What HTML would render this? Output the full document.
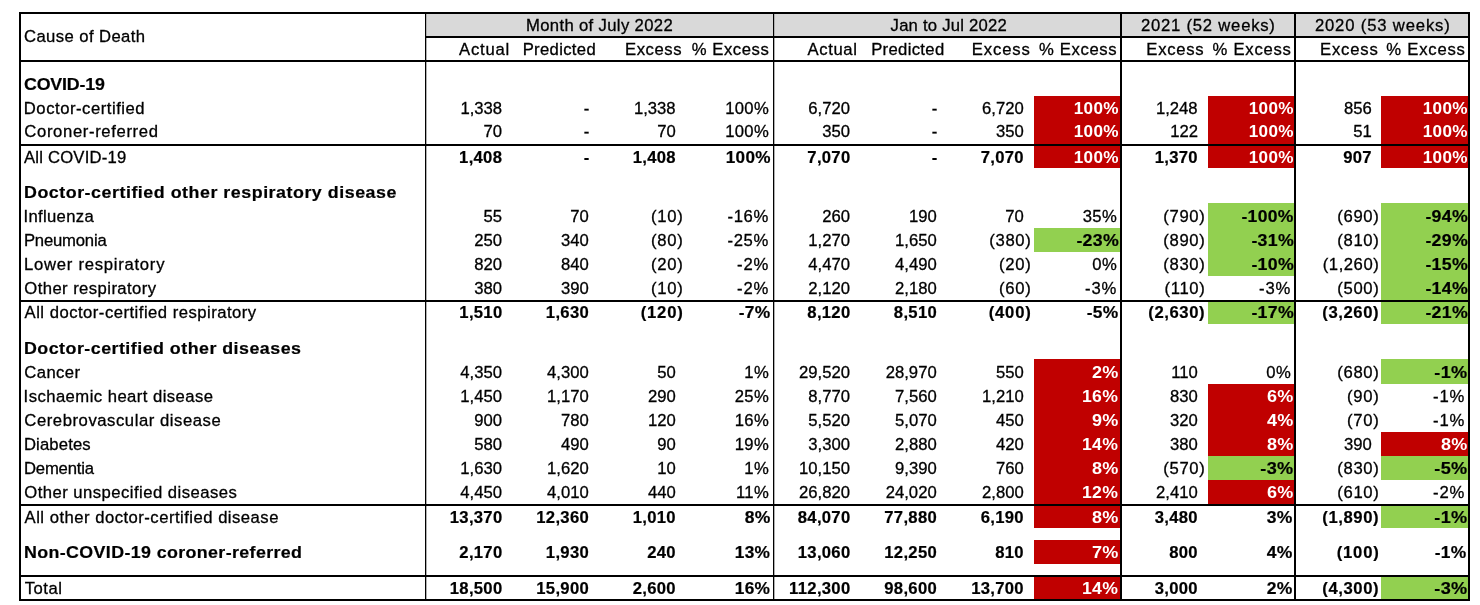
<!DOCTYPE html>
<html><head><meta charset="utf-8"><title>Excess deaths by cause</title>
<style>
html,body{margin:0;padding:0;background:#fff;}
body{width:1480px;height:605px;position:relative;overflow:hidden;font-family:"Liberation Sans",sans-serif;font-size:16.67px;color:#000;}
.t{position:absolute;white-space:nowrap;line-height:19px;height:19px;-webkit-text-stroke:0.3px #000;letter-spacing:0.3px;}
.b{font-weight:bold;-webkit-text-stroke:0.2px #000;}
.bl{transform:scaleX(1.07);transform-origin:0 0;}
.w{color:#fff;font-weight:bold;-webkit-text-stroke:0;}
.ln{position:absolute;background:#000;}
.f{position:absolute;}
</style></head><body>

<div class="f" style="left:426px;top:14px;width:1043px;height:22px;background:#d9d9d9"></div>
<div class="f" style="left:1034px;top:96px;width:86px;height:24px;background:#c00000"></div>
<div class="f" style="left:1208px;top:96px;width:86px;height:24px;background:#c00000"></div>
<div class="f" style="left:1381px;top:96px;width:87px;height:24px;background:#c00000"></div>
<div class="f" style="left:1034px;top:120px;width:86px;height:24px;background:#c00000"></div>
<div class="f" style="left:1208px;top:120px;width:86px;height:24px;background:#c00000"></div>
<div class="f" style="left:1381px;top:120px;width:87px;height:24px;background:#c00000"></div>
<div class="f" style="left:1034px;top:144px;width:86px;height:24px;background:#c00000"></div>
<div class="f" style="left:1208px;top:144px;width:86px;height:24px;background:#c00000"></div>
<div class="f" style="left:1381px;top:144px;width:87px;height:24px;background:#c00000"></div>
<div class="f" style="left:1208px;top:203px;width:86px;height:25px;background:#92d050"></div>
<div class="f" style="left:1381px;top:203px;width:87px;height:25px;background:#92d050"></div>
<div class="f" style="left:1034px;top:228px;width:86px;height:24px;background:#92d050"></div>
<div class="f" style="left:1208px;top:228px;width:86px;height:24px;background:#92d050"></div>
<div class="f" style="left:1381px;top:228px;width:87px;height:24px;background:#92d050"></div>
<div class="f" style="left:1208px;top:252px;width:86px;height:24px;background:#92d050"></div>
<div class="f" style="left:1381px;top:252px;width:87px;height:24px;background:#92d050"></div>
<div class="f" style="left:1381px;top:276px;width:87px;height:24px;background:#92d050"></div>
<div class="f" style="left:1208px;top:300px;width:86px;height:24px;background:#92d050"></div>
<div class="f" style="left:1381px;top:300px;width:87px;height:24px;background:#92d050"></div>
<div class="f" style="left:1034px;top:359px;width:86px;height:25px;background:#c00000"></div>
<div class="f" style="left:1381px;top:359px;width:87px;height:25px;background:#92d050"></div>
<div class="f" style="left:1034px;top:384px;width:86px;height:24px;background:#c00000"></div>
<div class="f" style="left:1208px;top:384px;width:86px;height:24px;background:#c00000"></div>
<div class="f" style="left:1034px;top:408px;width:86px;height:24px;background:#c00000"></div>
<div class="f" style="left:1208px;top:408px;width:86px;height:24px;background:#c00000"></div>
<div class="f" style="left:1034px;top:432px;width:86px;height:24px;background:#c00000"></div>
<div class="f" style="left:1208px;top:432px;width:86px;height:24px;background:#c00000"></div>
<div class="f" style="left:1381px;top:432px;width:87px;height:24px;background:#c00000"></div>
<div class="f" style="left:1034px;top:456px;width:86px;height:24px;background:#c00000"></div>
<div class="f" style="left:1208px;top:456px;width:86px;height:24px;background:#92d050"></div>
<div class="f" style="left:1381px;top:456px;width:87px;height:24px;background:#92d050"></div>
<div class="f" style="left:1034px;top:480px;width:86px;height:24px;background:#c00000"></div>
<div class="f" style="left:1208px;top:480px;width:86px;height:24px;background:#c00000"></div>
<div class="f" style="left:1034px;top:504px;width:86px;height:24px;background:#c00000"></div>
<div class="f" style="left:1381px;top:504px;width:87px;height:24px;background:#92d050"></div>
<div class="f" style="left:1034px;top:540px;width:86px;height:24px;background:#c00000"></div>
<div class="f" style="left:1034px;top:576px;width:86px;height:24px;background:#c00000"></div>
<div class="f" style="left:1381px;top:576px;width:87px;height:24px;background:#92d050"></div>
<div class="ln" style="left:426px;top:12px;width:1px;height:589px;background:#b0b0b0"></div>
<div class="ln" style="left:774px;top:12px;width:1px;height:589px;background:#b0b0b0"></div>
<div class="ln" style="left:425px;top:12px;width:1px;height:589px"></div>
<div class="ln" style="left:773px;top:12px;width:1px;height:589px"></div>
<div class="ln" style="left:1120px;top:12px;width:2px;height:589px"></div>
<div class="ln" style="left:1294px;top:12px;width:2px;height:589px"></div>
<div class="ln" style="left:19px;top:12px;width:2px;height:589px"></div>
<div class="ln" style="left:1468px;top:12px;width:2px;height:589px"></div>
<div class="ln" style="left:19px;top:12px;width:1451px;height:2px"></div>
<div class="ln" style="left:19px;top:599px;width:1451px;height:2px"></div>
<div class="ln" style="left:425px;top:36px;width:1045px;height:2px"></div>
<div class="ln" style="left:19px;top:60px;width:1451px;height:2px"></div>
<div class="ln" style="left:19px;top:144px;width:1451px;height:2px"></div>
<div class="ln" style="left:19px;top:300px;width:1451px;height:2px"></div>
<div class="ln" style="left:19px;top:504px;width:1451px;height:2px"></div>
<div class="ln" style="left:19px;top:575px;width:1451px;height:2px"></div>
<div id="t1" class="t" style="top:27px;left:23.99px;letter-spacing:0.412px;">Cause of Death</div>
<div id="t2" class="t" style="top:16px;left:525.96px;letter-spacing:0.352px;">Month of July 2022</div>
<div id="t3" class="t" style="top:16px;left:890.59px;letter-spacing:0.223px;">Jan to Jul 2022</div>
<div id="t4" class="t" style="top:16px;left:1141px;letter-spacing:0.769px;">2021 (52 weeks)</div>
<div id="t5" class="t" style="top:16px;left:1314.88px;letter-spacing:0.842px;">2020 (53 weeks)</div>
<div id="t6" class="t" style="top:40px;right:969.99px;letter-spacing:0.767px;">Actual</div>
<div id="t7" class="t" style="top:40px;right:884.03px;letter-spacing:0.326px;">Predicted</div>
<div id="t8" class="t" style="top:40px;right:797.86px;letter-spacing:0.584px;">Excess</div>
<div id="t9" class="t" style="top:40px;right:710.75px;letter-spacing:0.533px;">% Excess</div>
<div id="t10" class="t" style="top:40px;right:622.43px;letter-spacing:0.631px;">Actual</div>
<div id="t11" class="t" style="top:40px;right:535.51px;letter-spacing:0.330px;">Predicted</div>
<div id="t12" class="t" style="top:40px;right:449.26px;letter-spacing:0.892px;">Excess</div>
<div id="t13" class="t" style="top:40px;right:362.69px;letter-spacing:0.658px;">% Excess</div>
<div id="t14" class="t" style="top:40px;right:275.69px;letter-spacing:0.709px;">Excess</div>
<div id="t15" class="t" style="top:40px;right:188.32px;letter-spacing:0.752px;">% Excess</div>
<div id="t16" class="t" style="top:40px;right:101.48px;letter-spacing:0.811px;">Excess</div>
<div id="t17" class="t" style="top:40px;right:14.29px;letter-spacing:0.779px;">% Excess</div>
<div id="t18" class="t b bl" style="top:75px;left:24.05px;letter-spacing:-0.187px;">COVID-19</div>
<div id="t19" class="t" style="top:99px;left:23.8px;letter-spacing:0.526px;">Doctor-certified</div>
<div id="t20" class="t" style="top:99px;right:977.86px;letter-spacing:0.000px;">1,338</div>
<div id="t21" class="t" style="top:99px;right:890.83px;letter-spacing:0.000px;">-</div>
<div id="t22" class="t" style="top:99px;right:804.39px;letter-spacing:0.000px;">1,338</div>
<div id="t23" class="t" style="top:99px;right:711.01px;">100%</div>
<div id="t24" class="t" style="top:99px;right:630.06px;letter-spacing:0.000px;">6,720</div>
<div id="t25" class="t" style="top:99px;right:542.83px;letter-spacing:0.000px;">-</div>
<div id="t26" class="t" style="top:99px;right:456.31px;letter-spacing:0.000px;">6,720</div>
<div id="t27" class="t w" style="top:99px;right:361.2px;transform:scaleX(1.029);transform-origin:100% 0;">100%</div>
<div id="t28" class="t" style="top:99px;right:282.39px;letter-spacing:0.000px;">1,248</div>
<div id="t29" class="t w" style="top:99px;right:186.2px;transform:scaleX(1.029);transform-origin:100% 0;">100%</div>
<div id="t30" class="t" style="top:99px;right:108.11px;letter-spacing:0.000px;">856</div>
<div id="t31" class="t w" style="top:99px;right:12.2px;transform:scaleX(1.029);transform-origin:100% 0;">100%</div>
<div id="t32" class="t" style="top:122px;left:24.34px;letter-spacing:0.639px;">Coroner-referred</div>
<div id="t33" class="t" style="top:122px;right:978.06px;letter-spacing:0.000px;">70</div>
<div id="t34" class="t" style="top:122px;right:890.83px;letter-spacing:0.000px;">-</div>
<div id="t35" class="t" style="top:122px;right:804.31px;letter-spacing:0.000px;">70</div>
<div id="t36" class="t" style="top:122px;right:711.01px;">100%</div>
<div id="t37" class="t" style="top:122px;right:630.06px;letter-spacing:0.000px;">350</div>
<div id="t38" class="t" style="top:122px;right:542.83px;letter-spacing:0.000px;">-</div>
<div id="t39" class="t" style="top:122px;right:456.31px;letter-spacing:0.000px;">350</div>
<div id="t40" class="t w" style="top:122px;right:361.2px;transform:scaleX(1.029);transform-origin:100% 0;">100%</div>
<div id="t41" class="t" style="top:122px;right:282.07px;letter-spacing:0.000px;">122</div>
<div id="t42" class="t w" style="top:122px;right:186.2px;transform:scaleX(1.029);transform-origin:100% 0;">100%</div>
<div id="t43" class="t" style="top:122px;right:108.15px;letter-spacing:0.000px;">51</div>
<div id="t44" class="t w" style="top:122px;right:12.2px;transform:scaleX(1.029);transform-origin:100% 0;">100%</div>
<div id="t45" class="t" style="top:148px;left:24.07px;letter-spacing:0.198px;">All COVID-19</div>
<div id="t46" class="t b" style="top:148px;right:977.76px;">1,408</div>
<div id="t47" class="t b" style="top:148px;right:890.47px;">-</div>
<div id="t48" class="t b" style="top:148px;right:804.17px;">1,408</div>
<div id="t49" class="t b" style="top:148px;right:709.2px;transform:scaleX(1.029);transform-origin:100% 0;">100%</div>
<div id="t50" class="t b" style="top:148px;right:629.5px;">7,070</div>
<div id="t51" class="t b" style="top:148px;right:542.47px;">-</div>
<div id="t52" class="t b" style="top:148px;right:456.07px;">7,070</div>
<div id="t53" class="t w" style="top:148px;right:361.2px;transform:scaleX(1.029);transform-origin:100% 0;">100%</div>
<div id="t54" class="t b" style="top:148px;right:282.07px;">1,370</div>
<div id="t55" class="t w" style="top:148px;right:186.2px;transform:scaleX(1.029);transform-origin:100% 0;">100%</div>
<div id="t56" class="t b" style="top:148px;right:108.1px;">907</div>
<div id="t57" class="t w" style="top:148px;right:12.2px;transform:scaleX(1.029);transform-origin:100% 0;">100%</div>
<div id="t58" class="t b bl" style="top:183px;left:24.2px;letter-spacing:0.496px;">Doctor-certified other respiratory disease</div>
<div id="t59" class="t" style="top:207px;left:23.56px;letter-spacing:0.316px;">Influenza</div>
<div id="t60" class="t" style="top:207px;right:977.86px;letter-spacing:0.000px;">55</div>
<div id="t61" class="t" style="top:207px;right:891.34px;letter-spacing:0.000px;">70</div>
<div id="t62" class="t" style="top:207px;right:796.4px;letter-spacing:0.767px;">(10)</div>
<div id="t63" class="t" style="top:207px;right:711.01px;letter-spacing:0.667px;">-16%</div>
<div id="t64" class="t" style="top:207px;right:630.06px;letter-spacing:0.000px;">260</div>
<div id="t65" class="t" style="top:207px;right:543.34px;letter-spacing:0.000px;">190</div>
<div id="t66" class="t" style="top:207px;right:456.31px;letter-spacing:0.000px;">70</div>
<div id="t67" class="t" style="top:207px;right:363.01px;">35%</div>
<div id="t68" class="t" style="top:207px;right:274.57px;letter-spacing:0.650px;">(790)</div>
<div id="t69" class="t b" style="top:207px;right:186.45px;transform:scaleX(1.052);transform-origin:100% 0;">-100%</div>
<div id="t70" class="t" style="top:207px;right:100.57px;letter-spacing:0.650px;">(690)</div>
<div id="t71" class="t b" style="top:207px;right:12.3px;transform:scaleX(1.065);transform-origin:100% 0;">-94%</div>
<div id="t72" class="t" style="top:231px;left:23.96px;letter-spacing:-0.192px;">Pneumonia</div>
<div id="t73" class="t" style="top:231px;right:978.06px;letter-spacing:0.000px;">250</div>
<div id="t74" class="t" style="top:231px;right:891.34px;letter-spacing:0.000px;">340</div>
<div id="t75" class="t" style="top:231px;right:796.4px;letter-spacing:0.767px;">(80)</div>
<div id="t76" class="t" style="top:231px;right:711.01px;letter-spacing:0.667px;">-25%</div>
<div id="t77" class="t" style="top:231px;right:630.06px;letter-spacing:0.000px;">1,270</div>
<div id="t78" class="t" style="top:231px;right:543.34px;letter-spacing:0.000px;">1,650</div>
<div id="t79" class="t" style="top:231px;right:448.57px;letter-spacing:0.650px;">(380)</div>
<div id="t80" class="t b" style="top:231px;right:361.3px;transform:scaleX(1.065);transform-origin:100% 0;">-23%</div>
<div id="t81" class="t" style="top:231px;right:274.57px;letter-spacing:0.650px;">(890)</div>
<div id="t82" class="t b" style="top:231px;right:186.3px;transform:scaleX(1.065);transform-origin:100% 0;">-31%</div>
<div id="t83" class="t" style="top:231px;right:100.57px;letter-spacing:0.650px;">(810)</div>
<div id="t84" class="t b" style="top:231px;right:12.3px;transform:scaleX(1.065);transform-origin:100% 0;">-29%</div>
<div id="t85" class="t" style="top:255px;left:23.96px;letter-spacing:0.741px;">Lower respiratory</div>
<div id="t86" class="t" style="top:255px;right:978.06px;letter-spacing:0.000px;">820</div>
<div id="t87" class="t" style="top:255px;right:891.34px;letter-spacing:0.000px;">840</div>
<div id="t88" class="t" style="top:255px;right:796.4px;letter-spacing:0.767px;">(20)</div>
<div id="t89" class="t" style="top:255px;right:710.84px;letter-spacing:0.850px;">-2%</div>
<div id="t90" class="t" style="top:255px;right:630.06px;letter-spacing:0.000px;">4,470</div>
<div id="t91" class="t" style="top:255px;right:543.34px;letter-spacing:0.000px;">4,490</div>
<div id="t92" class="t" style="top:255px;right:448.4px;letter-spacing:0.767px;">(20)</div>
<div id="t93" class="t" style="top:255px;right:363.01px;">0%</div>
<div id="t94" class="t" style="top:255px;right:274.57px;letter-spacing:0.650px;">(830)</div>
<div id="t95" class="t b" style="top:255px;right:186.3px;transform:scaleX(1.065);transform-origin:100% 0;">-10%</div>
<div id="t96" class="t" style="top:255px;right:100.73px;letter-spacing:0.533px;">(1,260)</div>
<div id="t97" class="t b" style="top:255px;right:12.3px;transform:scaleX(1.065);transform-origin:100% 0;">-15%</div>
<div id="t98" class="t" style="top:279px;left:24.29px;letter-spacing:0.428px;">Other respiratory</div>
<div id="t99" class="t" style="top:279px;right:978.06px;letter-spacing:0.000px;">380</div>
<div id="t100" class="t" style="top:279px;right:891.34px;letter-spacing:0.000px;">390</div>
<div id="t101" class="t" style="top:279px;right:796.4px;letter-spacing:0.767px;">(10)</div>
<div id="t102" class="t" style="top:279px;right:710.84px;letter-spacing:0.850px;">-2%</div>
<div id="t103" class="t" style="top:279px;right:630.06px;letter-spacing:0.000px;">2,120</div>
<div id="t104" class="t" style="top:279px;right:543.34px;letter-spacing:0.000px;">2,180</div>
<div id="t105" class="t" style="top:279px;right:448.4px;letter-spacing:0.767px;">(60)</div>
<div id="t106" class="t" style="top:279px;right:362.84px;letter-spacing:0.850px;">-3%</div>
<div id="t107" class="t" style="top:279px;right:274.57px;letter-spacing:0.650px;">(110)</div>
<div id="t108" class="t" style="top:279px;right:188.84px;letter-spacing:0.850px;">-3%</div>
<div id="t109" class="t" style="top:279px;right:100.57px;letter-spacing:0.650px;">(500)</div>
<div id="t110" class="t b" style="top:279px;right:12.3px;transform:scaleX(1.065);transform-origin:100% 0;">-14%</div>
<div id="t111" class="t" style="top:303px;left:24.6px;letter-spacing:0.484px;">All doctor-certified respiratory</div>
<div id="t112" class="t b" style="top:303px;right:977.5px;">1,510</div>
<div id="t113" class="t b" style="top:303px;right:890.99px;">1,630</div>
<div id="t114" class="t b" style="top:303px;right:796.56px;letter-spacing:0.750px;">(120)</div>
<div id="t115" class="t b" style="top:303px;right:709.9px;transform:scaleX(1.042);transform-origin:100% 0;">-7%</div>
<div id="t116" class="t b" style="top:303px;right:629.5px;">8,120</div>
<div id="t117" class="t b" style="top:303px;right:542.99px;">8,510</div>
<div id="t118" class="t b" style="top:303px;right:448.56px;letter-spacing:0.750px;">(400)</div>
<div id="t119" class="t b" style="top:303px;right:361.9px;transform:scaleX(1.042);transform-origin:100% 0;">-5%</div>
<div id="t120" class="t b" style="top:303px;right:274.75px;letter-spacing:0.600px;">(2,630)</div>
<div id="t121" class="t b" style="top:303px;right:186.3px;transform:scaleX(1.065);transform-origin:100% 0;">-17%</div>
<div id="t122" class="t b" style="top:303px;right:100.75px;letter-spacing:0.600px;">(3,260)</div>
<div id="t123" class="t b" style="top:303px;right:12.3px;transform:scaleX(1.065);transform-origin:100% 0;">-21%</div>
<div id="t124" class="t b bl" style="top:339px;left:24.2px;letter-spacing:0.451px;">Doctor-certified other diseases</div>
<div id="t125" class="t" style="top:363px;left:24.37px;letter-spacing:0.377px;">Cancer</div>
<div id="t126" class="t" style="top:363px;right:978.06px;letter-spacing:0.000px;">4,350</div>
<div id="t127" class="t" style="top:363px;right:891.34px;letter-spacing:0.000px;">4,300</div>
<div id="t128" class="t" style="top:363px;right:804.31px;letter-spacing:0.000px;">50</div>
<div id="t129" class="t" style="top:363px;right:711.01px;">1%</div>
<div id="t130" class="t" style="top:363px;right:630.06px;letter-spacing:0.000px;">29,520</div>
<div id="t131" class="t" style="top:363px;right:543.34px;letter-spacing:0.000px;">28,970</div>
<div id="t132" class="t" style="top:363px;right:456.31px;letter-spacing:0.000px;">550</div>
<div id="t133" class="t w" style="top:363px;right:360.95px;transform:scaleX(1.083);transform-origin:100% 0;">2%</div>
<div id="t134" class="t" style="top:363px;right:282.31px;letter-spacing:0.000px;">110</div>
<div id="t135" class="t" style="top:363px;right:189.01px;">0%</div>
<div id="t136" class="t" style="top:363px;right:100.57px;letter-spacing:0.650px;">(680)</div>
<div id="t137" class="t b" style="top:363px;right:12.5px;transform:scaleX(1.087);transform-origin:100% 0;">-1%</div>
<div id="t138" class="t" style="top:387px;left:23.56px;letter-spacing:0.451px;">Ischaemic heart disease</div>
<div id="t139" class="t" style="top:387px;right:978.06px;letter-spacing:0.000px;">1,450</div>
<div id="t140" class="t" style="top:387px;right:891.34px;letter-spacing:0.000px;">1,170</div>
<div id="t141" class="t" style="top:387px;right:804.31px;letter-spacing:0.000px;">290</div>
<div id="t142" class="t" style="top:387px;right:711.01px;">25%</div>
<div id="t143" class="t" style="top:387px;right:630.06px;letter-spacing:0.000px;">8,770</div>
<div id="t144" class="t" style="top:387px;right:543.34px;letter-spacing:0.000px;">7,560</div>
<div id="t145" class="t" style="top:387px;right:456.31px;letter-spacing:0.000px;">1,210</div>
<div id="t146" class="t w" style="top:387px;right:361.3px;transform:scaleX(1.059);transform-origin:100% 0;">16%</div>
<div id="t147" class="t" style="top:387px;right:282.31px;letter-spacing:0.000px;">830</div>
<div id="t148" class="t w" style="top:387px;right:185.95px;transform:scaleX(1.083);transform-origin:100% 0;">6%</div>
<div id="t149" class="t" style="top:387px;right:100.4px;letter-spacing:0.767px;">(90)</div>
<div id="t150" class="t" style="top:387px;right:14.84px;letter-spacing:0.850px;">-1%</div>
<div id="t151" class="t" style="top:411px;left:24.37px;letter-spacing:0.550px;">Cerebrovascular disease</div>
<div id="t152" class="t" style="top:411px;right:978.06px;letter-spacing:0.000px;">900</div>
<div id="t153" class="t" style="top:411px;right:891.34px;letter-spacing:0.000px;">780</div>
<div id="t154" class="t" style="top:411px;right:804.31px;letter-spacing:0.000px;">120</div>
<div id="t155" class="t" style="top:411px;right:711.01px;">16%</div>
<div id="t156" class="t" style="top:411px;right:630.06px;letter-spacing:0.000px;">5,520</div>
<div id="t157" class="t" style="top:411px;right:543.34px;letter-spacing:0.000px;">5,070</div>
<div id="t158" class="t" style="top:411px;right:456.31px;letter-spacing:0.000px;">450</div>
<div id="t159" class="t w" style="top:411px;right:360.95px;transform:scaleX(1.083);transform-origin:100% 0;">9%</div>
<div id="t160" class="t" style="top:411px;right:282.31px;letter-spacing:0.000px;">320</div>
<div id="t161" class="t w" style="top:411px;right:185.95px;transform:scaleX(1.083);transform-origin:100% 0;">4%</div>
<div id="t162" class="t" style="top:411px;right:100.4px;letter-spacing:0.767px;">(70)</div>
<div id="t163" class="t" style="top:411px;right:14.84px;letter-spacing:0.850px;">-1%</div>
<div id="t164" class="t" style="top:435px;left:23.96px;letter-spacing:0.143px;">Diabetes</div>
<div id="t165" class="t" style="top:435px;right:978.06px;letter-spacing:0.000px;">580</div>
<div id="t166" class="t" style="top:435px;right:891.34px;letter-spacing:0.000px;">490</div>
<div id="t167" class="t" style="top:435px;right:804.31px;letter-spacing:0.000px;">90</div>
<div id="t168" class="t" style="top:435px;right:711.01px;">19%</div>
<div id="t169" class="t" style="top:435px;right:630.06px;letter-spacing:0.000px;">3,300</div>
<div id="t170" class="t" style="top:435px;right:543.34px;letter-spacing:0.000px;">2,880</div>
<div id="t171" class="t" style="top:435px;right:456.31px;letter-spacing:0.000px;">420</div>
<div id="t172" class="t w" style="top:435px;right:361.3px;transform:scaleX(1.059);transform-origin:100% 0;">14%</div>
<div id="t173" class="t" style="top:435px;right:282.31px;letter-spacing:0.000px;">380</div>
<div id="t174" class="t w" style="top:435px;right:185.95px;transform:scaleX(1.083);transform-origin:100% 0;">8%</div>
<div id="t175" class="t" style="top:435px;right:108.31px;letter-spacing:0.000px;">390</div>
<div id="t176" class="t w" style="top:435px;right:11.95px;transform:scaleX(1.083);transform-origin:100% 0;">8%</div>
<div id="t177" class="t" style="top:459px;left:23.96px;letter-spacing:-0.185px;">Dementia</div>
<div id="t178" class="t" style="top:459px;right:978.06px;letter-spacing:0.000px;">1,630</div>
<div id="t179" class="t" style="top:459px;right:891.34px;letter-spacing:0.000px;">1,620</div>
<div id="t180" class="t" style="top:459px;right:804.31px;letter-spacing:0.000px;">10</div>
<div id="t181" class="t" style="top:459px;right:711.01px;">1%</div>
<div id="t182" class="t" style="top:459px;right:630.06px;letter-spacing:0.000px;">10,150</div>
<div id="t183" class="t" style="top:459px;right:543.34px;letter-spacing:0.000px;">9,390</div>
<div id="t184" class="t" style="top:459px;right:456.31px;letter-spacing:0.000px;">760</div>
<div id="t185" class="t w" style="top:459px;right:360.95px;transform:scaleX(1.083);transform-origin:100% 0;">8%</div>
<div id="t186" class="t" style="top:459px;right:274.57px;letter-spacing:0.650px;">(570)</div>
<div id="t187" class="t b" style="top:459px;right:186.5px;transform:scaleX(1.087);transform-origin:100% 0;">-3%</div>
<div id="t188" class="t" style="top:459px;right:100.57px;letter-spacing:0.650px;">(830)</div>
<div id="t189" class="t b" style="top:459px;right:12.5px;transform:scaleX(1.087);transform-origin:100% 0;">-5%</div>
<div id="t190" class="t" style="top:483px;left:24.29px;letter-spacing:0.463px;">Other unspecified diseases</div>
<div id="t191" class="t" style="top:483px;right:978.06px;letter-spacing:0.000px;">4,450</div>
<div id="t192" class="t" style="top:483px;right:891.34px;letter-spacing:0.000px;">4,010</div>
<div id="t193" class="t" style="top:483px;right:804.31px;letter-spacing:0.000px;">440</div>
<div id="t194" class="t" style="top:483px;right:711.01px;">11%</div>
<div id="t195" class="t" style="top:483px;right:630.06px;letter-spacing:0.000px;">26,820</div>
<div id="t196" class="t" style="top:483px;right:543.34px;letter-spacing:0.000px;">24,020</div>
<div id="t197" class="t" style="top:483px;right:456.31px;letter-spacing:0.000px;">2,800</div>
<div id="t198" class="t w" style="top:483px;right:361.3px;transform:scaleX(1.059);transform-origin:100% 0;">12%</div>
<div id="t199" class="t" style="top:483px;right:282.31px;letter-spacing:0.000px;">2,410</div>
<div id="t200" class="t w" style="top:483px;right:185.95px;transform:scaleX(1.083);transform-origin:100% 0;">6%</div>
<div id="t201" class="t" style="top:483px;right:100.57px;letter-spacing:0.650px;">(610)</div>
<div id="t202" class="t" style="top:483px;right:14.84px;letter-spacing:0.850px;">-2%</div>
<div id="t203" class="t" style="top:508px;left:24.6px;letter-spacing:0.482px;">All other doctor-certified disease</div>
<div id="t204" class="t b" style="top:508px;right:977.5px;">13,370</div>
<div id="t205" class="t b" style="top:508px;right:890.99px;">12,360</div>
<div id="t206" class="t b" style="top:508px;right:804.07px;">1,010</div>
<div id="t207" class="t b" style="top:508px;right:709.45px;transform:scaleX(1.052);transform-origin:100% 0;">8%</div>
<div id="t208" class="t b" style="top:508px;right:629.5px;">84,070</div>
<div id="t209" class="t b" style="top:508px;right:542.99px;">77,880</div>
<div id="t210" class="t b" style="top:508px;right:456.07px;">6,190</div>
<div id="t211" class="t w" style="top:508px;right:360.95px;transform:scaleX(1.083);transform-origin:100% 0;">8%</div>
<div id="t212" class="t b" style="top:508px;right:282.07px;">3,480</div>
<div id="t213" class="t b" style="top:508px;right:187.45px;transform:scaleX(1.052);transform-origin:100% 0;">3%</div>
<div id="t214" class="t b" style="top:508px;right:100.75px;letter-spacing:0.600px;">(1,890)</div>
<div id="t215" class="t b" style="top:508px;right:12.5px;transform:scaleX(1.087);transform-origin:100% 0;">-1%</div>
<div id="t216" class="t b bl" style="top:543px;left:24.2px;letter-spacing:0.354px;">Non-COVID-19 coroner-referred</div>
<div id="t217" class="t b" style="top:543px;right:977.5px;">2,170</div>
<div id="t218" class="t b" style="top:543px;right:890.99px;">1,930</div>
<div id="t219" class="t b" style="top:543px;right:804.07px;">240</div>
<div id="t220" class="t b" style="top:543px;right:709.65px;transform:scaleX(1.037);transform-origin:100% 0;">13%</div>
<div id="t221" class="t b" style="top:543px;right:629.5px;">13,060</div>
<div id="t222" class="t b" style="top:543px;right:542.99px;">12,250</div>
<div id="t223" class="t b" style="top:543px;right:456.07px;">810</div>
<div id="t224" class="t w" style="top:543px;right:360.95px;transform:scaleX(1.083);transform-origin:100% 0;">7%</div>
<div id="t225" class="t b" style="top:543px;right:282.07px;">800</div>
<div id="t226" class="t b" style="top:543px;right:187.45px;transform:scaleX(1.052);transform-origin:100% 0;">4%</div>
<div id="t227" class="t b" style="top:543px;right:100.56px;letter-spacing:0.750px;">(100)</div>
<div id="t228" class="t b" style="top:543px;right:13.9px;transform:scaleX(1.042);transform-origin:100% 0;">-1%</div>
<div id="t229" class="t" style="top:579px;left:24.74px;letter-spacing:0.479px;">Total</div>
<div id="t230" class="t b" style="top:579px;right:977.5px;">18,500</div>
<div id="t231" class="t b" style="top:579px;right:890.99px;">15,900</div>
<div id="t232" class="t b" style="top:579px;right:804.07px;">2,600</div>
<div id="t233" class="t b" style="top:579px;right:709.65px;transform:scaleX(1.037);transform-origin:100% 0;">16%</div>
<div id="t234" class="t b" style="top:579px;right:629.5px;">112,300</div>
<div id="t235" class="t b" style="top:579px;right:542.99px;">98,600</div>
<div id="t236" class="t b" style="top:579px;right:456.07px;">13,700</div>
<div id="t237" class="t w" style="top:579px;right:361.3px;transform:scaleX(1.059);transform-origin:100% 0;">14%</div>
<div id="t238" class="t b" style="top:579px;right:282.07px;">3,000</div>
<div id="t239" class="t b" style="top:579px;right:187.45px;transform:scaleX(1.052);transform-origin:100% 0;">2%</div>
<div id="t240" class="t b" style="top:579px;right:100.75px;letter-spacing:0.600px;">(4,300)</div>
<div id="t241" class="t b" style="top:579px;right:12.5px;transform:scaleX(1.087);transform-origin:100% 0;">-3%</div>
</body></html>
